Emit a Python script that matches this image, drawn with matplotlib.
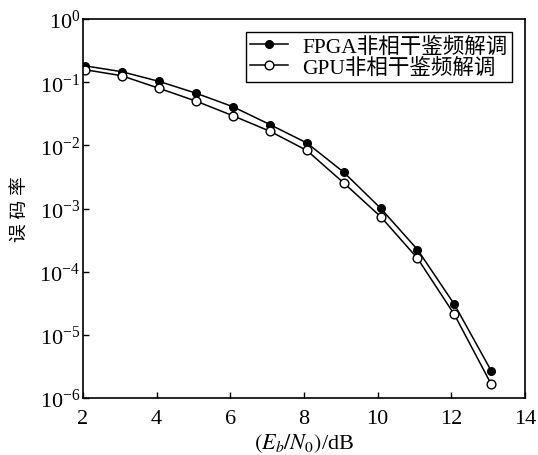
import matplotlib
matplotlib.use("Agg")
import matplotlib.pyplot as plt
from matplotlib.ticker import LogLocator, NullLocator

plt.rcParams['font.family'] = ['Liberation Serif', 'Noto Sans CJK SC']
plt.rcParams['mathtext.fontset'] = 'stix'

snr = [2.05, 3.05, 4.07, 5.08, 6.07, 7.08, 8.08, 9.08, 10.08, 11.08, 12.08, 13.08]
ber_fpga = [0.182, 0.147, 0.103, 0.0667, 0.041, 0.0213, 0.0109, 0.00375, 0.00101, 2.24e-4, 3.05e-5, 2.7e-6]
ber_gpu = [0.158, 0.127, 0.080, 0.050, 0.0295, 0.0167, 0.0083, 0.00254, 7.45e-4, 1.63e-4, 2.1e-5, 1.66e-6]
xticks = [2, 4, 6, 8, 10, 12, 14]
labels = ['FPGA非相干鉴频解调', 'GPU非相干鉴频解调']

fig = plt.figure(figsize=(5.38, 4.56), dpi=100)
ax = fig.add_axes([0.154, 0.125, 0.822, 0.831])
ax.plot(snr, ber_fpga, '-o', color='black', lw=1.1, ms=5.5, mfc='black', label=labels[0])
ax.plot(snr, ber_gpu, '-o', color='black', lw=1.1, ms=6.3, mfc='white', mew=1.0, label=labels[1])
ax.set_yscale('log')
ax.set_xlim(2, 14)
ax.set_ylim(1e-6, 1)
ax.set_xticks(xticks)
ax.yaxis.set_major_locator(LogLocator(base=10, numticks=10))
ax.yaxis.set_minor_locator(NullLocator())
ax.tick_params(direction='in', length=4, width=1, labelsize=16, top=False, right=False)
ax.tick_params(axis='x', pad=8)
ax.tick_params(axis='y', pad=2)
for s in ax.spines.values():
    s.set_linewidth(1.2)
ax.set_xlabel(r'$(E_b/N_0)$/dB', fontsize=16, labelpad=2)
ax.set_ylabel('误 码 率', fontsize=13.5, labelpad=7)
leg = ax.legend(loc='upper right', fontsize=15.5, frameon=True, fancybox=False,
                edgecolor='black', framealpha=1, borderpad=0.2, handlelength=1.75,
                handletextpad=0.7, labelspacing=0.05, borderaxespad=0.6)
leg.get_frame().set_linewidth(1.0)
fig.savefig('out.png', dpi=100)
